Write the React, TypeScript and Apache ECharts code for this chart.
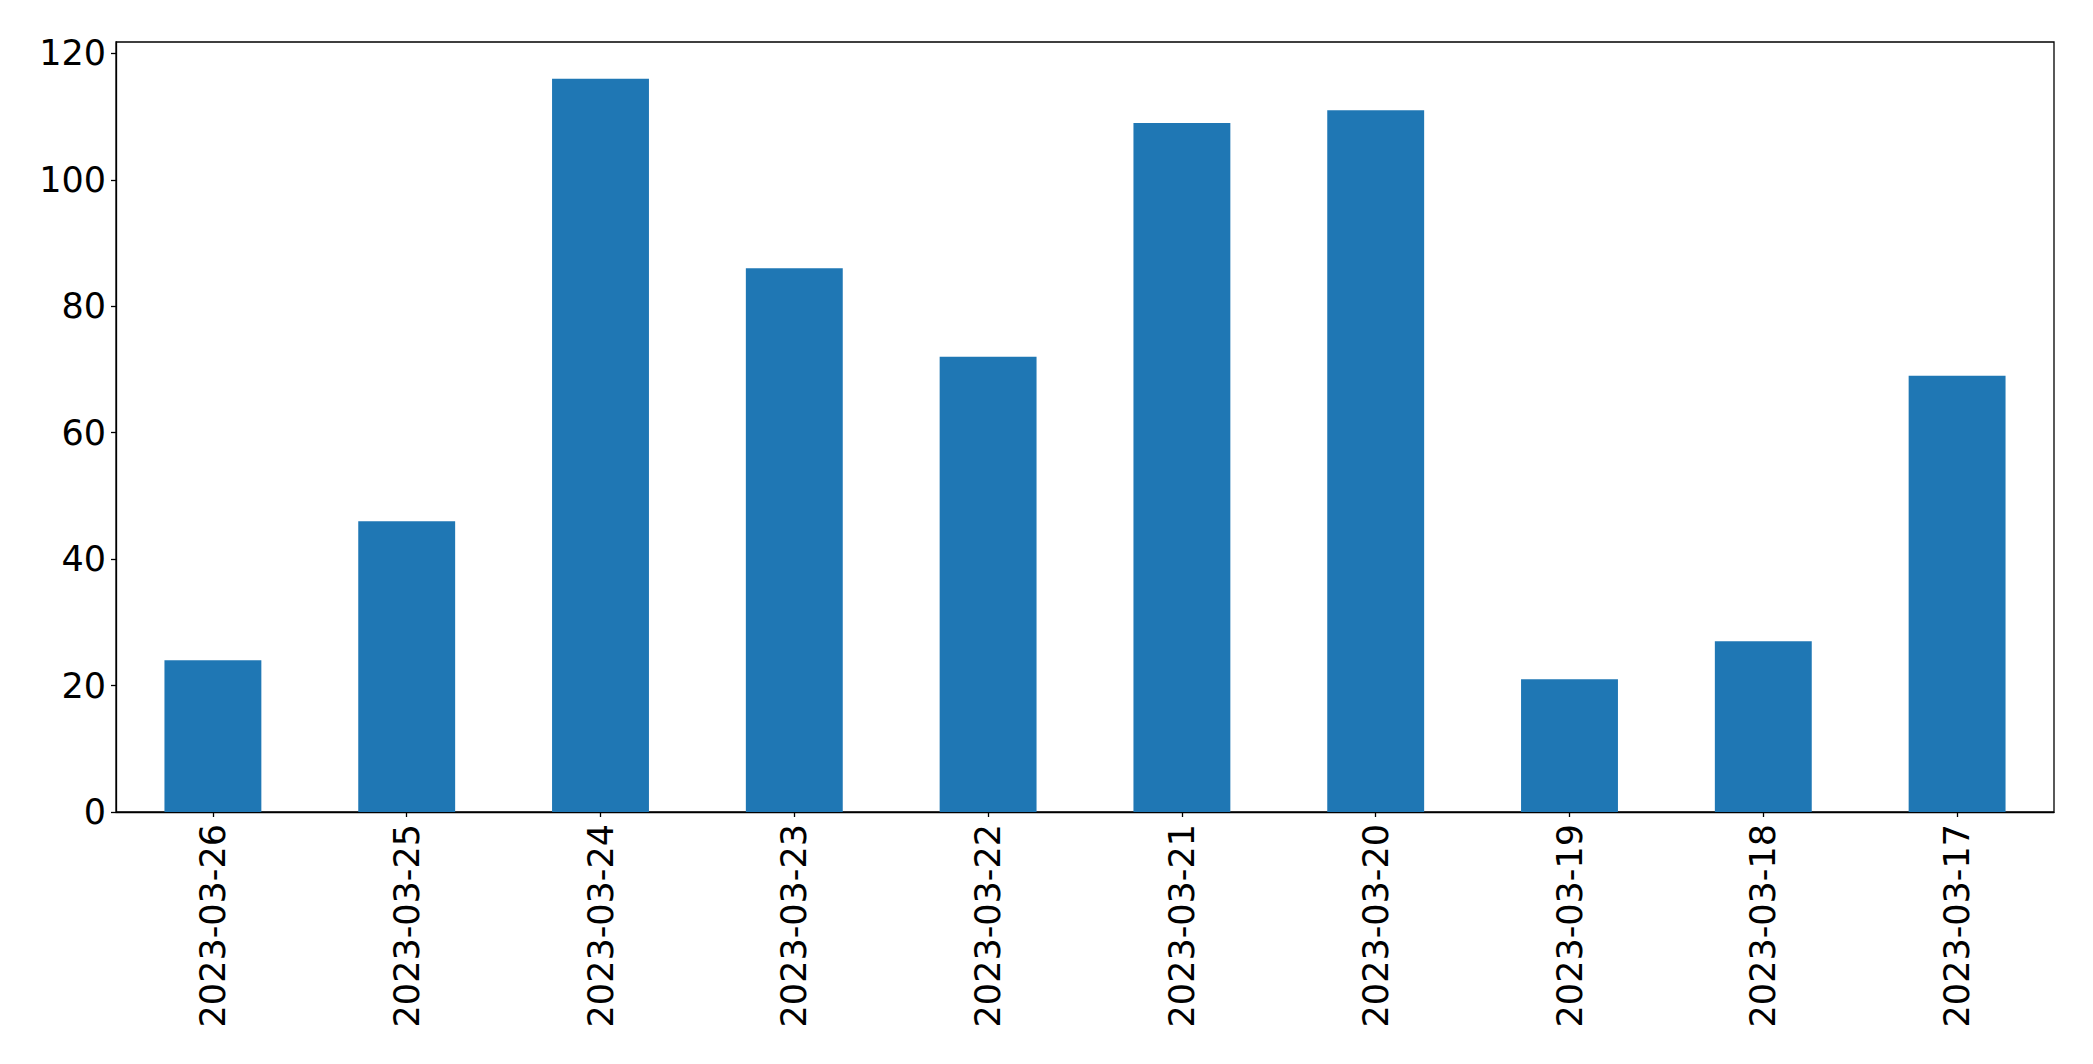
import React, { useEffect, useRef } from "react";
import * as echarts from "echarts";

const categories = [
  "2023-03-26",
  "2023-03-25",
  "2023-03-24",
  "2023-03-23",
  "2023-03-22",
  "2023-03-21",
  "2023-03-20",
  "2023-03-19",
  "2023-03-18",
  "2023-03-17",
];
const values = [24, 46, 116, 86, 72, 109, 111, 21, 27, 69];
const yTicks = [0, 20, 40, 60, 80, 100, 120];
const yMax = 121.8;

export default function App() {
  const ref = useRef<HTMLDivElement>(null);
  useEffect(() => {
    if (!ref.current) return;
    const chart = echarts.init(ref.current, null, { renderer: "svg" });
    const font = "DejaVu Sans";
    chart.setOption({
      animation: false,
      backgroundColor: "#ffffff",
      grid: {
        left: 116,
        top: 42,
        right: 39,
        bottom: 252,
        show: true,
        borderColor: "#000000",
        borderWidth: 1.3,
        backgroundColor: "transparent",
      },
      xAxis: {
        type: "category",
        data: categories,
        boundaryGap: true,
        axisLine: { show: true, lineStyle: { color: "#000000", width: 1.3 } },
        axisTick: {
          show: true,
          alignWithLabel: true,
          length: 5,
          lineStyle: { color: "#000000", width: 1.3 },
        },
        axisLabel: {
          rotate: 90,
          margin: 12,
          color: "#000000",
          fontFamily: font,
          fontSize: 35,
          interval: 0,
        },
        splitLine: { show: false },
      },
      yAxis: {
        type: "value",
        min: 0,
        max: yMax,
        interval: 20,
        axisLine: { show: true, lineStyle: { color: "#000000", width: 1.3 } },
        axisTick: {
          show: true,
          length: 5,
          customValues: yTicks,
          lineStyle: { color: "#000000", width: 1.3 },
        },
        axisLabel: {
          margin: 10,
          color: "#000000",
          fontFamily: font,
          fontSize: 35,
          customValues: yTicks,
        },
        splitLine: { show: false },
      },
      series: [
        {
          type: "bar",
          data: values,
          barWidth: "50%",
          itemStyle: { color: "#1f77b4" },
        },
      ],
    });
    return () => chart.dispose();
  }, []);
  return (
    <div
      ref={ref}
      style={{ position: "fixed", left: 0, top: 0, width: 2093, height: 1064 }}
    />
  );
}
